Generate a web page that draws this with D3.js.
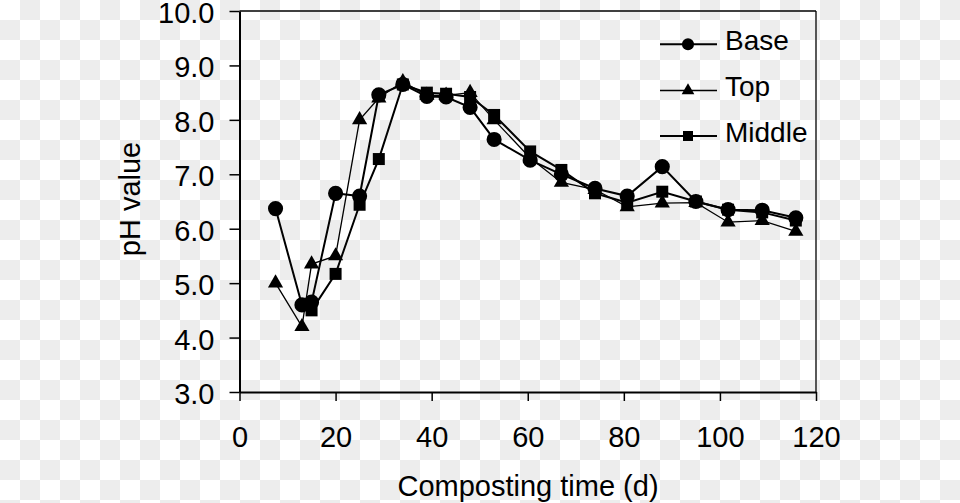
<!DOCTYPE html>
<html>
<head>
<meta charset="utf-8">
<script src="https://cdn.jsdelivr.net/npm/d3@7"></script>
<style>
html,body{margin:0;padding:0;background:#fff;}
svg{display:block;}
text{font-family:"Liberation Sans",Arial,sans-serif;fill:#000;}
</style>
</head>
<body>
<svg id="chart" width="960" height="503"></svg>
<script>
const days   = [7.5, 13, 15, 20, 25, 29, 34, 39, 43, 48, 53, 60.5, 67, 74, 80.7, 88, 95, 101.7, 108.8, 115.8];
const base   = [6.37, 4.6, 4.65, 6.65, 6.6, 8.46, 8.65, 8.43, 8.42, 8.23, 7.64, 7.26, 7.0, 6.74, 6.6, 7.14, 6.5, 6.35, 6.34, 6.2];
const top_   = [5.0, 4.2, 5.35, 5.5, 8.0, 8.4, 8.7, 8.45, 8.45, 8.5, 8.0, 7.3, 6.85, 6.72, 6.4, 6.47, 6.48, 6.12, 6.15, 5.95];
const middle = [null, null, 4.5, 5.17, 6.44, 7.28, 8.65, 8.5, 8.48, 8.42, 8.09, 7.42, 7.08, 6.65, 6.48, 6.68, 6.5, 6.35, 6.3, 6.15];
const seriesNames = ["Base", "Top", "Middle"];
const xTicks = [0, 20, 40, 60, 80, 100, 120];
const yTicks = [3, 4, 5, 6, 7, 8, 9, 10];

const svg = d3.select("#chart");

// checkered background
const defs = svg.append("defs");
const pat = defs.append("pattern").attr("id","chk").attr("width",40).attr("height",40).attr("patternUnits","userSpaceOnUse");
pat.append("rect").attr("width",40).attr("height",40).attr("fill","#ffffff");
pat.append("rect").attr("x",20).attr("y",0).attr("width",20).attr("height",20).attr("fill","#ededed");
pat.append("rect").attr("x",0).attr("y",20).attr("width",20).attr("height",20).attr("fill","#ededed");
svg.append("rect").attr("width",960).attr("height",503).attr("fill","url(#chk)");

const x = d3.scaleLinear().domain([0,120]).range([239.5, 816]);
const y = d3.scaleLinear().domain([3,10]).range([392, 11]);

// frame (top & right)
svg.append("line").attr("x1",x(0)).attr("x2",x(120)).attr("y1",y(10)).attr("y2",y(10)).attr("stroke","#000").attr("stroke-width",1.3);
svg.append("line").attr("x1",x(120)).attr("x2",x(120)).attr("y1",y(10)).attr("y2",y(3)).attr("stroke","#000").attr("stroke-width",1.3);

// axes
const xAxis = svg.append("g").attr("transform",`translate(0,${y(3)})`)
  .call(d3.axisBottom(x).tickValues(xTicks).tickSize(9).tickSizeOuter(0).tickFormat(d3.format("d")));
const yAxis = svg.append("g").attr("transform",`translate(${x(0)},0)`)
  .call(d3.axisLeft(y).tickValues(yTicks).tickSize(10).tickSizeOuter(0).tickFormat(d3.format(".1f")));
[xAxis,yAxis].forEach(g=>{
  g.select(".domain").attr("stroke","#000").attr("stroke-width",2);
  g.selectAll(".tick line").attr("stroke","#000").attr("stroke-width",1.5);
  g.selectAll("text").attr("font-family","Liberation Sans, Arial, sans-serif").attr("font-size",29).attr("fill","#000");
});
xAxis.selectAll("text").attr("y",54.5).attr("dy",null);
yAxis.selectAll("text").attr("x",-25).attr("dy",null).attr("y",11.5);

// titles
svg.append("text").attr("x",528).attr("y",496).attr("text-anchor","middle").attr("font-size",29).text("Composting time (d)");
svg.append("text").attr("transform","translate(140,199) rotate(-90)").attr("text-anchor","middle").attr("font-size",29).text("pH value");

const data = {
  Base: days.map((d,i)=>({x:d,y:base[i]})),
  Top: days.map((d,i)=>({x:d,y:top_[i]})),
  Middle: days.map((d,i)=>({x:d,y:middle[i]})).filter(p=>p.y!==null)
};
const style = {
  Base: {sym:d3.symbolCircle, size:180, lw:2, lsize:115},
  Top: {sym:d3.symbolTriangle, size:100, lw:1.3, lsize:70},
  Middle: {sym:d3.symbolSquare, size:144, lw:2, lsize:100}
};
const line = d3.line().x(d=>x(d.x)).y(d=>y(d.y));

["Top","Middle","Base"].forEach(name=>{
  const g = svg.append("g");
  g.append("path").datum(data[name]).attr("d",line).attr("fill","none").attr("stroke","#000").attr("stroke-width",style[name].lw);
  g.selectAll("path.m").data(data[name]).enter().append("path").attr("class","m")
    .attr("d",d3.symbol().type(style[name].sym).size(style[name].size))
    .attr("transform",d=>`translate(${x(d.x)},${y(d.y)})`).attr("fill","#000");
});

// legend
const legY = [44.3, 90.5, 136];
seriesNames.forEach((name,i)=>{
  const g = svg.append("g").attr("transform",`translate(0,${legY[i]})`);
  g.append("line").attr("x1",660).attr("x2",717).attr("y1",0).attr("y2",0).attr("stroke","#000").attr("stroke-width",style[name].lw);
  g.append("path").attr("d",d3.symbol().type(style[name].sym).size(style[name].lsize)).attr("transform","translate(688,0)").attr("fill","#000");
  g.append("text").attr("x",725).attr("y",5.8).attr("font-size",28).text(name);
});
</script>
</body>
</html>
